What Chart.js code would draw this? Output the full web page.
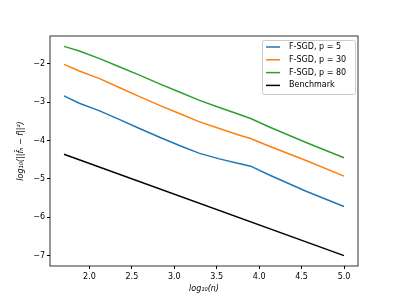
<!DOCTYPE html>
<html>
<head>
<meta charset="utf-8">
<script src="https://cdn.jsdelivr.net/npm/chart.js@4"></script>
<style>
  html, body { margin: 0; padding: 0; background: #fff; }
  canvas { display: block; }
</style>
</head>
<body>
<canvas id="chart" width="399" height="299"></canvas>
<script>
// log10(n) sample points
const xValues = [1.7, 1.88, 2.12, 2.35, 2.59, 2.82, 3.06, 3.29, 3.53, 3.76, 3.9, 4.12, 4.56, 5.0];
const p5Values = [-2.84, -3.03, -3.23, -3.45, -3.69, -3.91, -4.13, -4.33, -4.48, -4.60, -4.67, -4.90, -5.33, -5.72];
const p30Values = [-2.02, -2.19, -2.39, -2.62, -2.86, -3.08, -3.30, -3.51, -3.69, -3.86, -3.95, -4.15, -4.53, -4.93];
const p80Values = [-1.55, -1.67, -1.87, -2.08, -2.30, -2.52, -2.74, -2.95, -3.14, -3.32, -3.43, -3.65, -4.06, -4.45];
const benchX = [1.7, 5.0];
const benchValues = [-4.36, -7.0];

const seriesLabels = ['F-SGD, p = 5', 'F-SGD, p = 30', 'F-SGD, p = 80', 'Benchmark'];
const xTicks = [2.0, 2.5, 3.0, 3.5, 4.0, 4.5, 5.0];
const yTicks = [-7, -6, -5, -4, -3, -2];

const FONT = 'DejaVu Sans';

function toPoints(xs, ys) {
    return xs.map((x, i) => ({ x: x, y: ys[i] }));
}

// рамка вокруг области графика + легенда внутри
const framePlugin = {
    id: 'frame',
    afterDraw(chart) {
        const { ctx, chartArea: a } = chart;
        ctx.save();
        ctx.strokeStyle = '#000';
        ctx.lineWidth = 0.8;
        ctx.strokeRect(a.left, a.top, a.right - a.left, a.bottom - a.top);

        // legend
        const bx = 262, by = 40, bw = 93, bh = 54;
        ctx.fillStyle = 'rgba(255,255,255,0.8)';
        ctx.strokeStyle = '#cccccc';
        ctx.lineWidth = 1;
        ctx.beginPath();
        ctx.roundRect(bx + 0.5, by + 0.5, bw, bh, 2);
        ctx.fill();
        ctx.stroke();
        ctx.font = '8px "' + FONT + '"';
        ctx.textBaseline = 'middle';
        chart.data.datasets.forEach((ds, i) => {
            const y = by + 7 + i * 12.8;
            ctx.strokeStyle = ds.borderColor;
            ctx.lineWidth = 1.5;
            ctx.beginPath();
            ctx.moveTo(bx + 4, y);
            ctx.lineTo(bx + 18, y);
            ctx.stroke();
            ctx.fillStyle = '#000';
            ctx.fillText(ds.label, bx + 27, y);
        });
        ctx.restore();
    }
};

const ctx = document.getElementById('chart').getContext('2d');
new Chart(ctx, {
    type: 'line',
    data: {
        datasets: [
            { label: seriesLabels[0], data: toPoints(xValues, p5Values), borderColor: '#1f77b4' },
            { label: seriesLabels[1], data: toPoints(xValues, p30Values), borderColor: '#ff7f0e' },
            { label: seriesLabels[2], data: toPoints(xValues, p80Values), borderColor: '#2ca02c' },
            { label: seriesLabels[3], data: toPoints(benchX, benchValues), borderColor: '#000000' }
        ]
    },
    options: {
        responsive: false,
        animation: false,
        devicePixelRatio: 1,
        elements: {
            point: { radius: 0 },
            line: { borderWidth: 1.5, tension: 0, fill: false }
        },
        layout: { padding: { left: 0, right: 41, top: 36, bottom: 0 } },
        plugins: {
            legend: { display: false },
            tooltip: { enabled: false }
        },
        scales: {
            x: {
                type: 'linear',
                min: 1.535,
                max: 5.165,
                afterBuildTicks: scale => { scale.ticks = xTicks.map(v => ({ value: v })); },
                afterFit: scale => { scale.height = 33; },
                grid: { display: true, drawOnChartArea: false, drawTicks: true, tickLength: 3, color: '#000', tickColor: '#000' },
                border: { display: false },
                ticks: {
                    padding: 3,
                    color: '#000',
                    font: { family: FONT, size: 8 },
                    maxRotation: 0,
                    callback: v => v.toFixed(1)
                },
                title: {
                    display: true,
                    text: 'log₁₀(n)',
                    color: '#000',
                    padding: { top: 0, bottom: 5 },
                    font: { family: FONT, size: 8, style: 'italic' }
                }
            },
            y: {
                type: 'linear',
                min: -7.27,
                max: -1.28,
                afterBuildTicks: scale => { scale.ticks = yTicks.map(v => ({ value: v })); },
                afterFit: scale => { scale.width = 50; },
                grid: { display: true, drawOnChartArea: false, drawTicks: true, tickLength: 3, color: '#000', tickColor: '#000' },
                border: { display: false },
                ticks: {
                    padding: 2,
                    color: '#000',
                    font: { family: FONT, size: 8 },
                    callback: v => String(v).replace('-', '\u2212')
                },
                title: {
                    display: true,
                    text: 'log₁₀(||f̂ₙ − f||²)',
                    color: '#000',
                    padding: { top: 16, bottom: 0 },
                    font: { family: FONT, size: 8, style: 'italic' }
                }
            }
        }
    },
    plugins: [framePlugin]
});
</script>
</body>
</html>
